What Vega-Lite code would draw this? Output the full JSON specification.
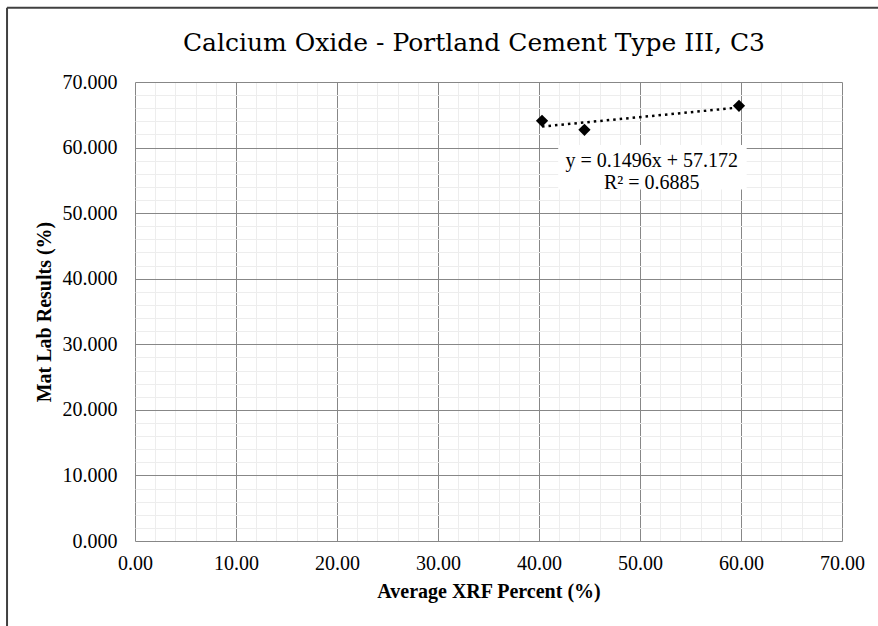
{
  "$schema": "https://vega.github.io/schema/vega-lite/v6.json",
  "width": 707,
  "height": 459,
  "autosize": {"type": "none"},
  "padding": {"left": 135, "top": 82, "right": 36, "bottom": 85},
  "background": "white",
  "config": {"view": {"stroke": null}, "font": "Liberation Serif"},
  "data": {
    "values": [
      {"x": 40.3, "y": 64.09},
      {"x": 44.5, "y": 62.70},
      {"x": 59.8, "y": 66.36}
    ]
  },
  "layer": [
    {
      "mark": {"type": "point", "opacity": 0},
      "encoding": {
        "x": {
          "field": "x", "type": "quantitative",
          "scale": {"domain": [0, 70], "nice": false},
          "axis": {
            "orient": "bottom",
            "values": [2,4,6,8,12,14,16,18,22,24,26,28,32,34,36,38,42,44,46,48,52,54,56,58,62,64,66,68],
            "grid": true, "gridColor": "#ededed", "gridWidth": 1,
            "labels": false, "ticks": false, "domain": false, "title": null
          }
        },
        "y": {
          "field": "y", "type": "quantitative",
          "scale": {"domain": [0, 70], "nice": false},
          "axis": {
            "orient": "left",
            "values": [2,4,6,8,12,14,16,18,22,24,26,28,32,34,36,38,42,44,46,48,52,54,56,58,62,64,66,68],
            "grid": true, "gridColor": "#ededed", "gridWidth": 1,
            "labels": false, "ticks": false, "domain": false, "title": null
          }
        }
      }
    },
    {
      "data": {"values": [{}]},
      "mark": {"type": "rect", "fill": "#ffffff"},
      "encoding": {
        "x": {"datum": 41.9, "type": "quantitative", "scale": {"domain": [0, 70], "nice": false}, "axis": null},
        "x2": {"datum": 60.56},
        "y": {"datum": 60.4, "type": "quantitative", "scale": {"domain": [0, 70], "nice": false}, "axis": null},
        "y2": {"datum": 53.6}
      }
    },
    {
      "data": {"values": [{}]},
      "mark": {
        "type": "text",
        "text": ["y = 0.1496x + 57.172", "R² = 0.6885"],
        "font": "Liberation Serif",
        "fontSize": 20,
        "color": "#000000",
        "align": "center",
        "baseline": "middle",
        "lineHeight": 22.6
      },
      "encoding": {
        "x": {"datum": 51.16, "type": "quantitative", "scale": {"domain": [0, 70], "nice": false}, "axis": null},
        "y": {"datum": 58.0, "type": "quantitative", "scale": {"domain": [0, 70], "nice": false}, "axis": null}
      }
    },
    {
      "data": {"values": [{}]},
      "mark": {
        "type": "text",
        "text": "Calcium Oxide - Portland Cement Type III, C3",
        "font": "DejaVu Serif",
        "fontSize": 25,
        "color": "#000000",
        "align": "center",
        "baseline": "alphabetic"
      },
      "encoding": {
        "x": {"datum": 33.56, "type": "quantitative", "scale": {"domain": [0, 70], "nice": false}, "axis": null},
        "y": {"datum": 74.73, "type": "quantitative", "scale": {"domain": [0, 70], "nice": false}, "axis": null}
      }
    },
    {
      "transform": [{"regression": "y", "on": "x"}],
      "mark": {"type": "line", "color": "#000000", "strokeWidth": 2.5, "strokeDash": [2.5, 4]},
      "encoding": {
        "x": {
          "field": "x", "type": "quantitative",
          "scale": {"domain": [0, 70], "nice": false},
          "axis": {
            "orient": "bottom",
            "values": [0, 10, 20, 30, 40, 50, 60, 70],
            "format": ".2f",
            "grid": true, "gridColor": "#878787", "gridWidth": 1,
            "domain": false, "ticks": false, "tickSize": 0,
            "labelFont": "Liberation Serif", "labelFontSize": 20, "labelColor": "#000000",
            "labelPadding": 12, "labelFlush": false,
            "title": "Average XRF Percent (%)",
            "titleFont": "Liberation Serif", "titleFontSize": 20, "titleFontWeight": "bold",
            "titleColor": "#000000", "titlePadding": 8
          }
        },
        "y": {
          "field": "y", "type": "quantitative",
          "scale": {"domain": [0, 70], "nice": false},
          "axis": {
            "orient": "left",
            "values": [0, 10, 20, 30, 40, 50, 60, 70],
            "format": ".3f",
            "grid": true, "gridColor": "#878787", "gridWidth": 1,
            "domain": false, "ticks": false, "tickSize": 0,
            "labelFont": "Liberation Serif", "labelFontSize": 20, "labelColor": "#000000",
            "labelPadding": 18, "labelFlush": false,
            "title": "Mat Lab Results (%)",
            "titleFont": "Liberation Serif", "titleFontSize": 20, "titleFontWeight": "bold",
            "titleColor": "#000000", "titlePadding": 8
          }
        }
      }
    },
    {
      "mark": {"type": "point", "shape": "diamond", "filled": true, "color": "#000000", "opacity": 1, "size": 150},
      "encoding": {
        "x": {"field": "x", "type": "quantitative", "scale": {"domain": [0, 70], "nice": false}, "axis": null},
        "y": {"field": "y", "type": "quantitative", "scale": {"domain": [0, 70], "nice": false}, "axis": null}
      }
    },
    {
      "data": {"values": [{}]},
      "mark": {"type": "rule", "color": "#404040", "strokeWidth": 2},
      "encoding": {
        "x": {"datum": -12.67, "type": "quantitative", "scale": {"domain": [0, 70], "nice": false}, "axis": null},
        "y": {"datum": 81.33, "type": "quantitative", "scale": {"domain": [0, 70], "nice": false}, "axis": null},
        "y2": {"datum": -14}
      }
    },
    {
      "data": {"values": [{}]},
      "mark": {"type": "rule", "color": "#404040", "strokeWidth": 2},
      "encoding": {
        "x": {"datum": -12.67, "type": "quantitative", "scale": {"domain": [0, 70], "nice": false}, "axis": null},
        "x2": {"datum": 75},
        "y": {"datum": 81.33, "type": "quantitative", "scale": {"domain": [0, 70], "nice": false}, "axis": null}
      }
    }
  ],
  "resolve": {"axis": {"x": "independent", "y": "independent"}}
}
